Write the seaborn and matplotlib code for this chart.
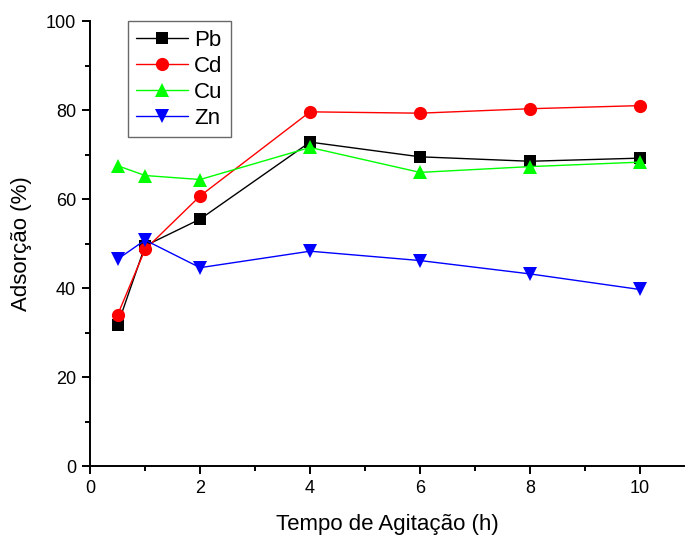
import matplotlib
matplotlib.use("Agg")
import matplotlib.pyplot as plt
import numpy as np
import pandas as pd
import seaborn as sns

# tempo de agitacao (h)
tempo = [0.5, 1, 2, 4, 6, 8, 10]
pb = [31.7, 49.5, 55.5, 72.8, 69.5, 68.5, 69.2]
cd = [34.0, 48.7, 60.7, 79.6, 79.3, 80.3, 81.0]
cu = [67.5, 65.3, 64.4, 71.6, 66.0, 67.3, 68.3]
zn = [46.5, 50.8, 44.6, 48.3, 46.2, 43.2, 39.7]
metais = ["Pb", "Cd", "Cu", "Zn"]

df = pd.DataFrame({
    "tempo": tempo * 4,
    "ads": pb + cd + cu + zn,
    "metal": np.repeat(metais, len(tempo)),
})

sns.set_style("ticks")
plt.rcParams["font.family"] = ["Liberation Sans", "DejaVu Sans"]
plt.rcParams["text.color"] = "black"
plt.rcParams["axes.labelcolor"] = "black"
plt.rcParams["xtick.color"] = "black"
plt.rcParams["ytick.color"] = "black"
plt.rcParams["axes.edgecolor"] = "black"

cores = {"Pb": "black", "Cd": "red", "Cu": "#00ff00", "Zn": "blue"}
marcadores = {"Pb": "s", "Cd": "o", "Cu": "^", "Zn": "v"}
tamanhos = {"Pb": 8.5, "Cd": 9.5, "Cu": 10.5, "Zn": 10.5}

fig = plt.figure(figsize=(6.88, 5.39), dpi=100)
ax = fig.add_axes([0.131, 0.135, 0.863, 0.826])

for m in metais:
    sub = df[df["metal"] == m]
    sns.lineplot(data=sub, x="tempo", y="ads", ax=ax, color=cores[m],
                 marker=marcadores[m], markersize=tamanhos[m],
                 markeredgewidth=0, linewidth=1, label=m)

ax.set_xlim(0, 10.8)
ax.set_ylim(0, 100)
ax.set_xticks([0, 2, 4, 6, 8, 10])
ax.set_xticks([1, 3, 5, 7, 9], minor=True)
ax.set_yticks([0, 20, 40, 60, 80, 100])
ax.set_yticks([10, 30, 50, 70, 90], minor=True)
ax.tick_params(axis="both", which="major", direction="out", length=6, width=1.4,
               labelsize=13, pad=4)
ax.tick_params(axis="both", which="minor", direction="out", length=3.6, width=1.4)
for s in ["left", "bottom"]:
    ax.spines[s].set_linewidth(1.4)
sns.despine(ax=ax)

ax.set_xlabel("Tempo de Agitação (h)", fontsize=16, labelpad=12)
ax.set_ylabel("Adsorção (%)", fontsize=16, labelpad=10)

leg = ax.legend(loc="upper left", bbox_to_anchor=(0.063, 1.0), fontsize=16,
                frameon=True, fancybox=False, edgecolor="#444444",
                handlelength=2.3, borderpad=0.4, labelspacing=0.22,
                handletextpad=0.3, borderaxespad=0)
leg.get_frame().set_linewidth(1)

fig.savefig("out.png", dpi=100)
